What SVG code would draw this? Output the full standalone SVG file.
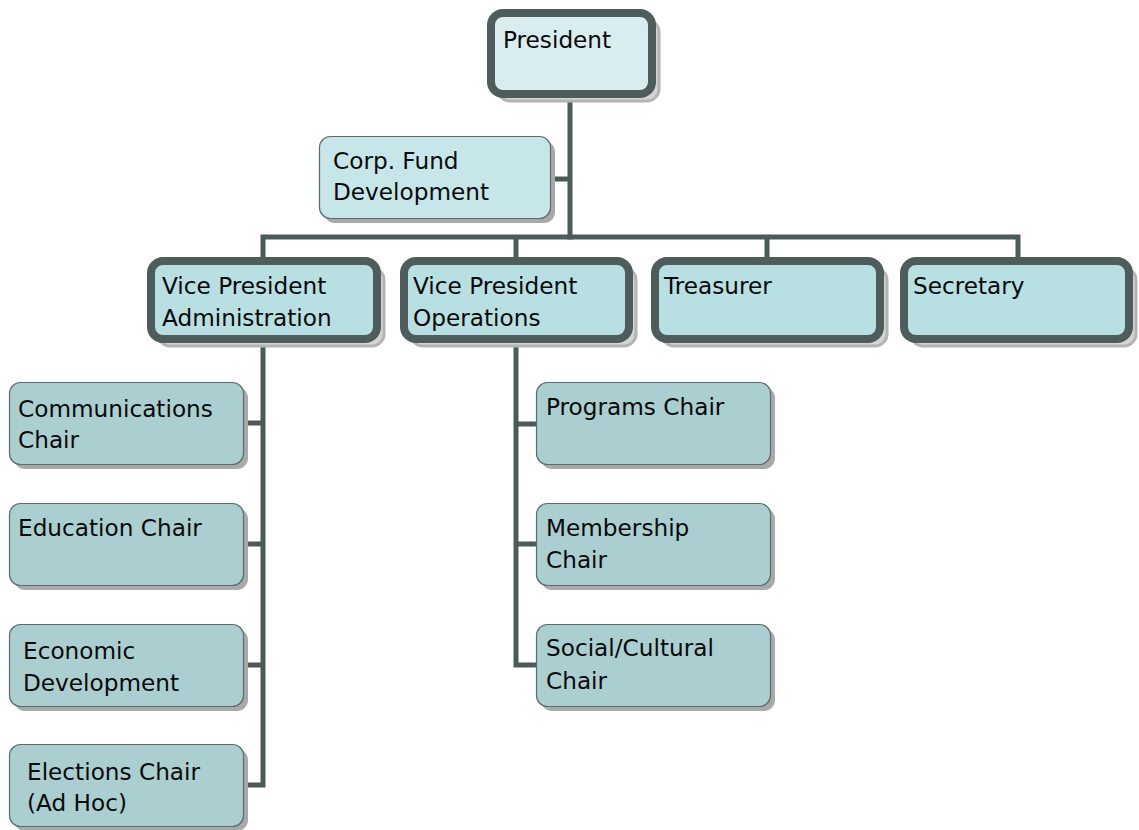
<svg xmlns="http://www.w3.org/2000/svg" width="1139" height="830" viewBox="0 0 1139 830">
  <style>
    .t { font-family: "DejaVu Sans", Verdana, sans-serif; font-size: 23.2px; fill: #0a0a0a; }
    .conn { stroke: #4d5a5a; stroke-width: 5; fill: none; stroke-linecap: square; }
    .shadowK { fill: #d4d4d4; stroke: #b4b4b4; stroke-width: 3; }
    .shadowT { fill: #a9a9a9; }
    .thick { stroke: #4f5c5c; stroke-width: 8; }
    .thin { stroke: #5c6c6c; stroke-width: 1.2; }
    .top { fill: #d9edf0; }
    .vp { fill: #b8dfe2; }
    .staff { fill: #c6e6ea; }
    .chair { fill: #abcfd1; }
  </style>

  <!-- connectors -->
  <g id="connectors">
    <path class="conn" d="M570 98 V237 M551 179 H570"/>
    <path class="conn" d="M263 237 H1018 M263 237 V257 M516 237 V257 M767 237 V257 M1018 237 V257"/>
    <path class="conn" d="M263 343 V785 H243 M243 423 H263 M243 544 H263 M243 665 H263"/>
    <path class="conn" d="M516 343 V665 H536 M516 424 H536 M516 544 H536"/>
  </g>

  <!-- top level -->
  <g id="president">
    <rect class="shadowK" x="498" y="20" width="161" height="81" rx="12"/>
    <rect class="top thick" x="491" y="13" width="161" height="81" rx="12"/>
    <text class="t" x="503" y="48">President</text>
  </g>

  <g id="corp-fund">
    <rect class="shadowT" x="324" y="141" width="231" height="82" rx="11"/>
    <rect class="staff thin" x="319.5" y="136.5" width="231" height="82" rx="11"/>
    <text class="t" x="333" y="169">Corp. Fund</text>
    <text class="t" x="333" y="200">Development</text>
  </g>

  <!-- officers -->
  <g id="vp-admin">
    <rect class="shadowK" x="158" y="268" width="226" height="78" rx="12"/>
    <rect class="vp thick" x="151" y="261" width="226" height="78" rx="12"/>
    <text class="t" x="162" y="294">Vice President</text>
    <text class="t" x="162" y="326">Administration</text>
  </g>

  <g id="vp-operations">
    <rect class="shadowK" x="411" y="268" width="225" height="78" rx="12"/>
    <rect class="vp thick" x="404" y="261" width="225" height="78" rx="12"/>
    <text class="t" x="413" y="294">Vice President</text>
    <text class="t" x="413" y="326">Operations</text>
  </g>

  <g id="treasurer">
    <rect class="shadowK" x="662" y="268" width="225" height="78" rx="12"/>
    <rect class="vp thick" x="655" y="261" width="225" height="78" rx="12"/>
    <text class="t" x="664" y="294">Treasurer</text>
  </g>

  <g id="secretary">
    <rect class="shadowK" x="911" y="268" width="225" height="78" rx="12"/>
    <rect class="vp thick" x="904" y="261" width="225" height="78" rx="12"/>
    <text class="t" x="913" y="294">Secretary</text>
  </g>

  <!-- administration chairs -->
  <g id="communications">
    <rect class="shadowT" x="14" y="387" width="234" height="82" rx="11"/>
    <rect class="chair thin" x="9.5" y="382.5" width="234" height="82" rx="11"/>
    <text class="t" x="18" y="417">Communications</text>
    <text class="t" x="18" y="448">Chair</text>
  </g>

  <g id="education">
    <rect class="shadowT" x="14" y="508" width="234" height="82" rx="11"/>
    <rect class="chair thin" x="9.5" y="503.5" width="234" height="82" rx="11"/>
    <text class="t" x="18" y="536">Education Chair</text>
  </g>

  <g id="economic">
    <rect class="shadowT" x="14" y="629" width="234" height="82" rx="11"/>
    <rect class="chair thin" x="9.5" y="624.5" width="234" height="82" rx="11"/>
    <text class="t" x="23" y="659">Economic</text>
    <text class="t" x="23" y="691">Development</text>
  </g>

  <g id="elections">
    <rect class="shadowT" x="14" y="749" width="234" height="82" rx="11"/>
    <rect class="chair thin" x="9.5" y="744.5" width="234" height="82" rx="11"/>
    <text class="t" x="27" y="780">Elections Chair</text>
    <text class="t" x="27" y="811">(Ad Hoc)</text>
  </g>

  <!-- operations chairs -->
  <g id="programs">
    <rect class="shadowT" x="541" y="387" width="234" height="82" rx="11"/>
    <rect class="chair thin" x="536.5" y="382.5" width="234" height="82" rx="11"/>
    <text class="t" x="546" y="415">Programs Chair</text>
  </g>

  <g id="membership">
    <rect class="shadowT" x="541" y="508" width="234" height="82" rx="11"/>
    <rect class="chair thin" x="536.5" y="503.5" width="234" height="82" rx="11"/>
    <text class="t" x="546" y="536">Membership</text>
    <text class="t" x="546" y="568">Chair</text>
  </g>

  <g id="social-cultural">
    <rect class="shadowT" x="541" y="629" width="234" height="82" rx="11"/>
    <rect class="chair thin" x="536.5" y="624.5" width="234" height="82" rx="11"/>
    <text class="t" x="546" y="656">Social/Cultural</text>
    <text class="t" x="546" y="689">Chair</text>
  </g>
</svg>
